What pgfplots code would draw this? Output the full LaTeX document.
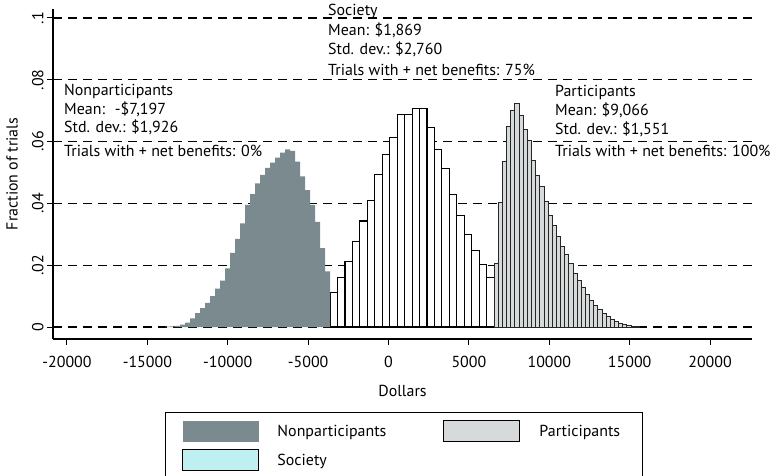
\documentclass[border=0pt]{standalone}
\usepackage{pgfplots}
\usepackage{pgfplotstable}
\pgfplotsset{compat=1.18}
\usepackage{fontspec}
\setmainfont{PT Sans}
\definecolor{npgray}{HTML}{7A8A8E}
\definecolor{pgrayf}{HTML}{D6DADB}
\definecolor{soccyan}{HTML}{BEF0F2}
\pgfplotsset{boxlegend/.style={legend image code/.code={\path[##1] (0bp,-10.5bp) rectangle (76bp,10.5bp);}}}

\pgfplotstableread[row sep=\\]{
x y\\
-13900 0.0001\\
-13589 0.0002\\
-13278 0.0004\\
-12967 0.0008\\
-12656 0.0014\\
-12345 0.0028\\
-12034 0.0045\\
-11723 0.0061\\
-11412 0.0078\\
-11101 0.0100\\
-10790 0.0124\\
-10479 0.0150\\
-10168 0.0190\\
-9857 0.0240\\
-9546 0.0285\\
-9235 0.0335\\
-8924 0.0395\\
-8613 0.0430\\
-8302 0.0465\\
-7991 0.0492\\
-7680 0.0515\\
-7369 0.0532\\
-7058 0.0548\\
-6747 0.0564\\
-6436 0.0575\\
-6125 0.0570\\
-5814 0.0535\\
-5503 0.0487\\
-5192 0.0443\\
-4881 0.0395\\
-4570 0.0340\\
-4259 0.0255\\
-3948 0.0180\\
-3637 0.0180\\
}\npdata

\pgfplotstableread[row sep=\\]{
x y\\
-3637 0.0112\\
-3173 0.0160\\
-2709 0.0211\\
-2245 0.0276\\
-1781 0.0343\\
-1317 0.0408\\
-853 0.0494\\
-389 0.0557\\
75 0.0613\\
539 0.0689\\
1003 0.0689\\
1467 0.0708\\
1931 0.0708\\
2395 0.0645\\
2859 0.0575\\
3323 0.0514\\
3787 0.0429\\
4251 0.0360\\
4715 0.0298\\
5179 0.0247\\
5643 0.0201\\
6107 0.0160\\
6571 0.0160\\
}\socdata

\pgfplotstableread[row sep=\\]{
x y\\
6571 0.0206\\
6829 0.0403\\
7087 0.0535\\
7345 0.0648\\
7603 0.0702\\
7861 0.0724\\
8119 0.0684\\
8377 0.0640\\
8635 0.0605\\
8893 0.0540\\
9151 0.0492\\
9409 0.0454\\
9667 0.0408\\
9925 0.0360\\
10183 0.0330\\
10441 0.0292\\
10699 0.0262\\
10957 0.0236\\
11215 0.0205\\
11473 0.0175\\
11731 0.0150\\
11989 0.0128\\
12247 0.0104\\
12505 0.0086\\
12763 0.0070\\
13021 0.0056\\
13279 0.0044\\
13537 0.0033\\
13795 0.0025\\
14053 0.0017\\
14311 0.0011\\
14569 0.0007\\
14827 0.0004\\
15085 0.0003\\
15343 0.0002\\
15601 0.0002\\
}\pdata

\begin{document}
\begin{tikzpicture}[font=\fontsize{16}{19}\selectfont, x=1bp, y=1bp]
\useasboundingbox (-53,-137) rectangle (724,339);
\begin{axis}[
  at={(0,0)}, anchor=south west, scale only axis,
  width=699bp, height=330bp,
  xmin=-20870, xmax=22610, ymin=-0.00388, ymax=0.1029,
  scaled x ticks=false, scaled y ticks=false,
  axis x line*=bottom, axis y line*=left,
  axis line style={line width=1.1bp, -},
  xtick={-20000,-15000,-10000,-5000,0,5000,10000,15000,20000},
  xticklabels={-20000,-15000,-10000,-5000,0,5000,10000,15000,20000},
  ytick={0,0.02,0.04,0.06,0.08,0.1},
  yticklabels={0,.02,.04,.06,.08,.1},
  tick align=outside, major tick length=6bp,
  tick style={black, line width=1bp},
  ymajorgrids,
  major grid style={black, line width=1.1bp, dash pattern=on 9bp off 6bp},
  yticklabel style={rotate=90, anchor=south},
  xticklabel style={yshift=-8bp},
  xlabel={Dollars}, ylabel={Fraction of trials},
  xlabel style={at={([yshift=-52bp]axis description cs:0.5,0)}, anchor=center},
  ylabel style={at={([xshift=-41bp]axis description cs:0,0.5)}, anchor=center},
  legend columns=2,
  legend cell align=left,
  legend style={at={(axis description cs:0.1602,-0.2212)}, anchor=north west,
    draw=black, line width=1bp, inner xsep=17bp, inner ysep=8bp,
    nodes={inner sep=0pt, anchor=west}, row sep=7bp,
    /tikz/every even column/.append style={column sep=0pt}},
]
\addplot[ybar interval, fill=white, draw=black, line width=1.1bp, forget plot] table {\socdata};
\addplot[ybar interval, fill=npgray, draw=none, forget plot] table {\npdata};
\addplot[ybar interval, fill=pgrayf, draw=black!85, line width=0.8bp, forget plot] table {\pdata};

\addlegendimage{boxlegend, draw=none, fill=npgray}
\addlegendentry{\hspace*{18bp}\makebox[166bp][l]{Nonparticipants}}
\addlegendimage{boxlegend, draw=black, line width=1bp, fill=pgrayf}
\addlegendentry{\hspace*{19bp}\makebox[86bp][l]{Participants}}
\addlegendimage{boxlegend, draw=black, line width=1bp, fill=soccyan}
\addlegendentry{\hspace*{18bp}\makebox[166bp][l]{Society}}
\end{axis}

\begin{scope}[every node/.style={inner sep=0pt, anchor=base west}]
\node at (11,243) {Nonparticipants};
\node at (11,224) {Mean: \ -\$7,197};
\node at (11,206) {Std. dev.: \$1,926};
\node at (11,182) {Trials with + net benefits: 0\%};
\node at (275,323) {Society};
\node at (275,303) {Mean: \$1,869};
\node at (275,284) {Std. dev.: \$2,760};
\node at (275,263) {Trials with + net benefits: 75\%};
\node at (502,242) {Participants};
\node at (502,223) {Mean: \$9,066};
\node at (502,204) {Std. dev.: \$1,551};
\node at (502,182) {Trials with + net benefits: 100\%};
\end{scope}
\end{tikzpicture}
\end{document}
